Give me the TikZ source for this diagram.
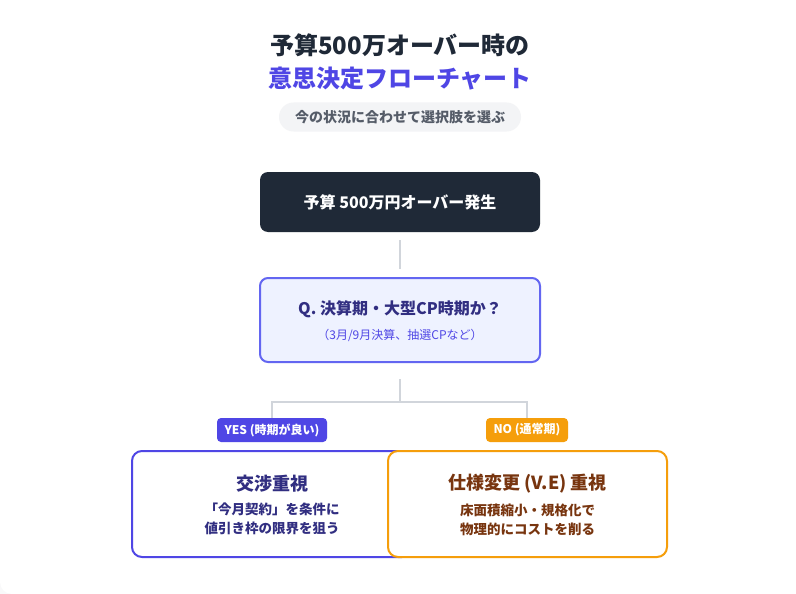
\documentclass[tikz,border=0pt]{standalone}
\usepackage{fontspec}
\setmainfont{Noto Sans CJK JP}
\usetikzlibrary{positioning}

\definecolor{ink}{HTML}{1F2937}
\definecolor{indigo}{HTML}{4F46E5}
\definecolor{qborder}{HTML}{6366F1}
\definecolor{qfill}{HTML}{EEF2FF}
\definecolor{qink}{HTML}{312E81}
\definecolor{pillfill}{HTML}{F3F4F6}
\definecolor{pillink}{HTML}{555C68}
\definecolor{wire}{HTML}{D1D5DB}
\definecolor{amber}{HTML}{F59E0B}
\definecolor{brown}{HTML}{78350F}

\tikzset{
  box/.style={rounded corners=8pt, minimum width=280pt, align=center, inner sep=0pt},
  tag/.style={rounded corners=4pt, minimum height=24pt, text=white, inner sep=0pt,
    font=\fontsize{12}{14}\selectfont\bfseries},
  card/.style={draw, line width=2pt, fill=white, rounded corners=10pt, minimum width=280pt,
    minimum height=106pt},
  wiring/.style={draw=wire, line width=1.2pt}
}

\begin{document}
\begin{tikzpicture}[x=1pt, y=-1pt]
	% Canvas
	\useasboundingbox (0,0) rectangle (796,594);
	\fill[pillfill!50] (0,0) rectangle (796,594);
	\fill[white, rounded corners=12pt] (0,-30) rectangle (830,594);
	
	% Title
	\node[font=\fontsize{24}{28}\selectfont\bfseries, text=ink] (title) at (400,45) {予算500万オーバー時の};
	\node[font=\fontsize{24}{28}\selectfont\bfseries, text=indigo] (subtitle) at (400,79) {意思決定フローチャート};
	\node[fill=pillfill, rounded corners=14.5pt, minimum width=242pt, minimum height=29pt, inner sep=0pt,
	  font=\fontsize{14}{16}\selectfont\bfseries, text=pillink] (hint) at (400,117) {今の状況に合わせて選択肢を選ぶ};
	
	% Start and question
	\node[box, fill=ink, minimum height=60pt, text=white, font=\fontsize{16}{18}\selectfont\bfseries]
	  (start) at (400,202) {予算 500万円オーバー発生};
	\node[box, draw=qborder, line width=2pt, fill=qfill, minimum height=84pt] (q) at (400,320) {};
	\node[font=\fontsize{16}{18}\selectfont\bfseries, text=qink] (qtext) at (400,309) {Q. 決算期・大型CP時期か？};
	\node[font=\fontsize{12}{14}\selectfont, text=indigo] (qnote) at (400,335) {（3月/9月決算、抽選CPなど）};
	
	% Connectors
	\draw[draw=wire, line width=2pt, shorten <=8pt, shorten >=8pt] (start) -- (q);
	\coordinate (split) at (400,402);
	\node[tag, fill=indigo, minimum width=110pt] (yes) at (272,430) {YES (時期が良い)};
	\node[tag, fill=amber, minimum width=82pt] (no) at (527,430) {NO (通常期)};
	\draw[wiring] (q.south) ++(0,16) -- (split);
	\draw[wiring] (yes.north) |- (split) -| (no.north);
	
	% Answers
	\node[card, draw=indigo] (nego) at (272,504) {};
	\node[card, draw=amber, minimum width=279pt] (ve) at (527.5,504) {};
	\node[font=\fontsize{18}{20}\selectfont\bfseries, text=qink] (negohead) at (272,484) {交渉重視};
	\node[font=\fontsize{13.5}{19}\selectfont\bfseries, text=qink, align=center] (negotext) at (272,519)
	  {「今月契約」を条件に\\値引き枠の限界を狙う};
	\node[font=\fontsize{18}{20}\selectfont\bfseries, text=brown] (vehead) at (527.5,484) {仕様変更 (V.E) 重視};
	\node[font=\fontsize{13.5}{19}\selectfont\bfseries, text=brown, align=center] (vetext) at (527.5,520)
	  {床面積縮小・規格化で\\物理的にコストを削る};
\end{tikzpicture}
\end{document}
